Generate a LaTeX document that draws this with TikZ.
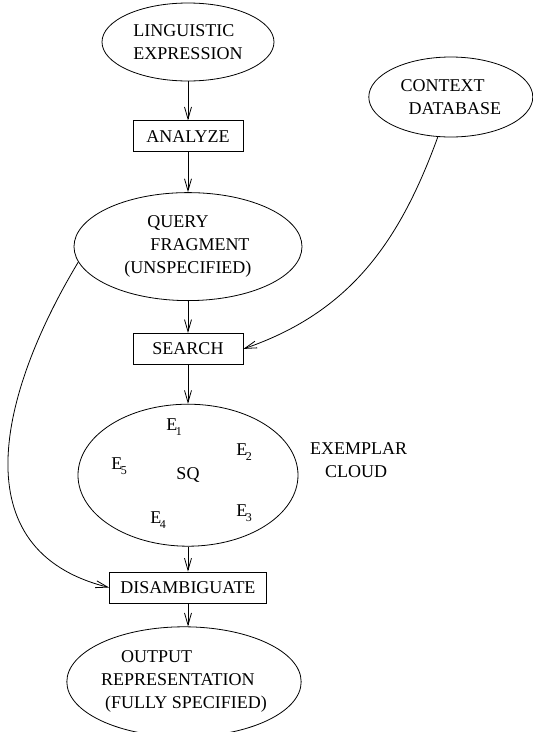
\documentclass[tikz,border=0pt]{standalone}
\usepackage{fontspec}
\setmainfont{Liberation Serif}
\usetikzlibrary{arrows.meta,positioning,shapes.geometric}

% exemplar with a low index
\newcommand{\exem}[1]{E\kern-1.5pt\lower5pt\hbox{\fontsize{12}{12}\selectfont #1}}

\begin{document}
\begin{tikzpicture}[
  >={Straight Barb[length=12pt,width=7pt]},
  line width=0.8pt,
  font=\fontsize{18}{23}\selectfont,
  oval/.style={draw, ellipse, inner sep=0pt, align=left},
  box/.style={draw, rectangle, minimum width=110pt, minimum height=31pt,
    inner sep=0pt},
  sample/.style={anchor=base west, inner sep=0pt},
  arr/.style={->}
]
\useasboundingbox (-188pt,42pt) rectangle (345pt,-690pt);

% main column
\node[oval, minimum width=172pt, minimum height=78pt] (ling) at (0,0)
  {LINGUISTIC\\EXPRESSION};
\node[box, below=39pt of ling] (analyze) {ANALYZE};
\node[oval, minimum width=228pt, minimum height=108pt, below=40pt of analyze]
  (query) {\hspace*{23pt}QUERY\\\hspace*{26pt}FRAGMENT\\(UNSPECIFIED)};
\node[box, below=32pt of query] (search) {SEARCH};
\node[oval, minimum width=220pt, minimum height=142pt, below=39pt of search]
  (cloud) {SQ};
\node[box, minimum width=157pt, below=25pt of cloud] (disamb) {DISAMBIGUATE};
\node[oval, minimum width=234pt, minimum height=110pt, below=23pt of disamb,
  xshift=-4pt] (output)
  {\hspace*{20pt}OUTPUT\\REPRESENTATION\\\hspace*{4pt}(FULLY SPECIFIED)};

% side input
\node[oval, minimum width=164pt, minimum height=80pt, right=94pt of ling,
  yshift=-55pt] (context) {CONTEXT\\\hspace*{8pt}DATABASE};

% exemplars inside the cloud
\node[sample] (e1) at ([shift={(-22pt,45pt)}]cloud.center) {\exem{1}};
\node[sample] (e2) at ([shift={(48pt,20pt)}]cloud.center) {\exem{2}};
\node[sample] (e3) at ([shift={(48pt,-41pt)}]cloud.center) {\exem{3}};
\node[sample] (e4) at ([shift={(-38pt,-48pt)}]cloud.center) {\exem{4}};
\node[sample] (e5) at ([shift={(-77pt,6pt)}]cloud.center) {\exem{5}};
\node[align=left, right=8pt of cloud, yshift=15pt] (cloudname)
  {EXEMPLAR\\\hspace*{15pt}CLOUD};

% flow
\draw[arr] (ling) -- (analyze);
\draw[arr] (analyze) -- (query);
\draw[arr] (query) -- (search);
\draw[arr] (search) -- (cloud);
\draw[arr] (cloud.south) -- (disamb);
\draw[arr] (disamb) -- (output.north -| disamb.south);
\draw[arr] (context.-108) to[out=250, in=19] (search.east);
\draw[arr] (query.188) to[out=239, in=166, looseness=1.2] (disamb.west);
\end{tikzpicture}
\end{document}
